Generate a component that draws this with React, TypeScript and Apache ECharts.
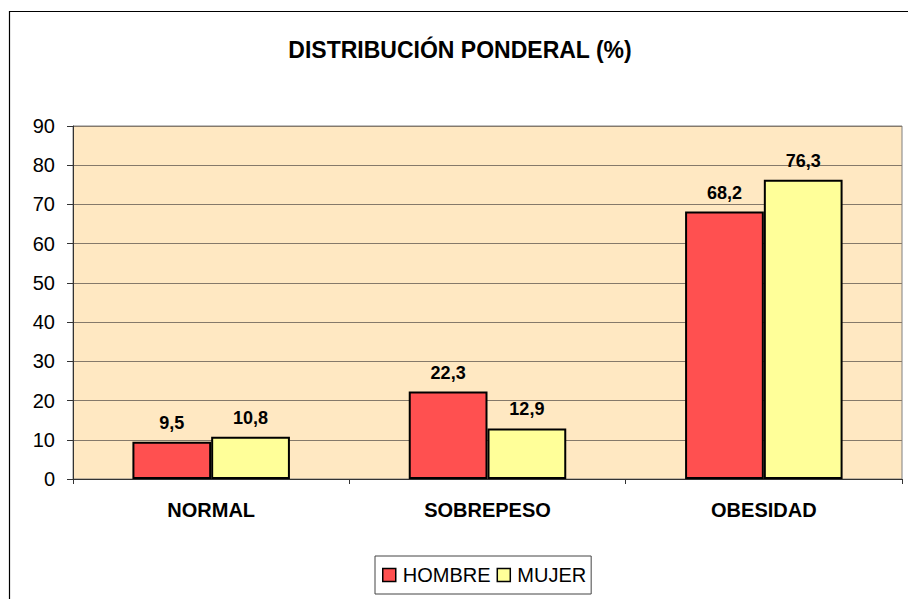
import React, { useEffect, useRef } from "react";
import * as echarts from "echarts";

const categories = ["NORMAL", "SOBREPESO", "OBESIDAD"];
const hombre = [9.5, 22.3, 68.2];
const mujer = [10.8, 12.9, 76.3];
const seriesNames = ["HOMBRE", "MUJER"];
const titleText = "DISTRIBUCIÓN PONDERAL (%)";

export default function App() {
  const ref = useRef<HTMLDivElement>(null);
  useEffect(() => {
    if (!ref.current) return;
    const chart = echarts.init(ref.current, null, { renderer: "svg" });
    const font = "Arial, 'Liberation Sans', sans-serif";
    const labelFmt = (p: any) => String(p.value).replace(".", ",");
    chart.setOption({
      animation: false,
      backgroundColor: "#ffffff",
      textStyle: { fontFamily: font },
      title: {
        text: titleText,
        left: 455,
        top: 33,
        textAlign: "center",
        textStyle: { fontFamily: font, fontSize: 23, fontWeight: "bold", color: "#000" },
      },
      graphic: [
        {
          type: "rect",
          shape: { x: 9.5, y: 11.5, width: 1200, height: 1200 },
          style: { fill: "none", stroke: "#000", lineWidth: 1.2 },
          silent: true,
        },
      ],
      grid: {
        left: 73,
        right: 6,
        top: 126,
        bottom: 120,
        show: true,
        backgroundColor: "#FFE8C2",
        borderColor: "#808080",
        borderWidth: 1,
      },
      legend: {
        data: seriesNames,
        left: 375,
        top: 556,
        orient: "horizontal",
        padding: [9, 5, 9, 7],
        itemGap: 6,
        itemWidth: 13,
        itemHeight: 13,
        icon: "rect",
        borderColor: "#444",
        borderWidth: 1,
        backgroundColor: "#fff",
        textStyle: { fontFamily: font, fontSize: 20, color: "#000", padding: [0, 0, 0, 2] },
        itemStyle: { borderColor: "#000", borderWidth: 1.5 },
      },
      xAxis: {
        type: "category",
        data: categories,
        axisLine: { show: true, lineStyle: { color: "#333", width: 1 } },
        axisTick: { show: true, length: 5, lineStyle: { color: "#333" } },
        axisLabel: { fontFamily: font, fontSize: 20, fontWeight: "bold", color: "#000", margin: 21 },
      },
      yAxis: {
        type: "value",
        min: 0,
        max: 90,
        interval: 10,
        axisLine: { show: true, lineStyle: { color: "#333", width: 1 } },
        axisTick: { show: true, length: 6, lineStyle: { color: "#333" } },
        axisLabel: { fontFamily: font, fontSize: 20, color: "#000", margin: 18 },
        splitLine: { show: true, lineStyle: { color: "#85796a", width: 1 } },
      },
      series: [
        {
          name: seriesNames[0],
          type: "bar",
          data: hombre,
          barGap: "0%",
          barCategoryGap: "43%",
          itemStyle: { color: "#FF5050", borderColor: "#000", borderWidth: 2 },
          label: {
            show: true,
            position: "top",
            distance: 10,
            formatter: labelFmt,
            fontFamily: font,
            fontSize: 18,
            fontWeight: "bold",
            color: "#000",
          },
        },
        {
          name: seriesNames[1],
          type: "bar",
          data: mujer,
          barGap: "0%",
          barCategoryGap: "43%",
          itemStyle: { color: "#FFFF99", borderColor: "#000", borderWidth: 2 },
          label: {
            show: true,
            position: "top",
            distance: 10,
            formatter: labelFmt,
            fontFamily: font,
            fontSize: 18,
            fontWeight: "bold",
            color: "#000",
          },
        },
      ],
    });
    return () => chart.dispose();
  }, []);
  return (
    <div
      ref={ref}
      style={{ position: "absolute", left: 0, top: 0, width: 908, height: 599 }}
    />
  );
}
